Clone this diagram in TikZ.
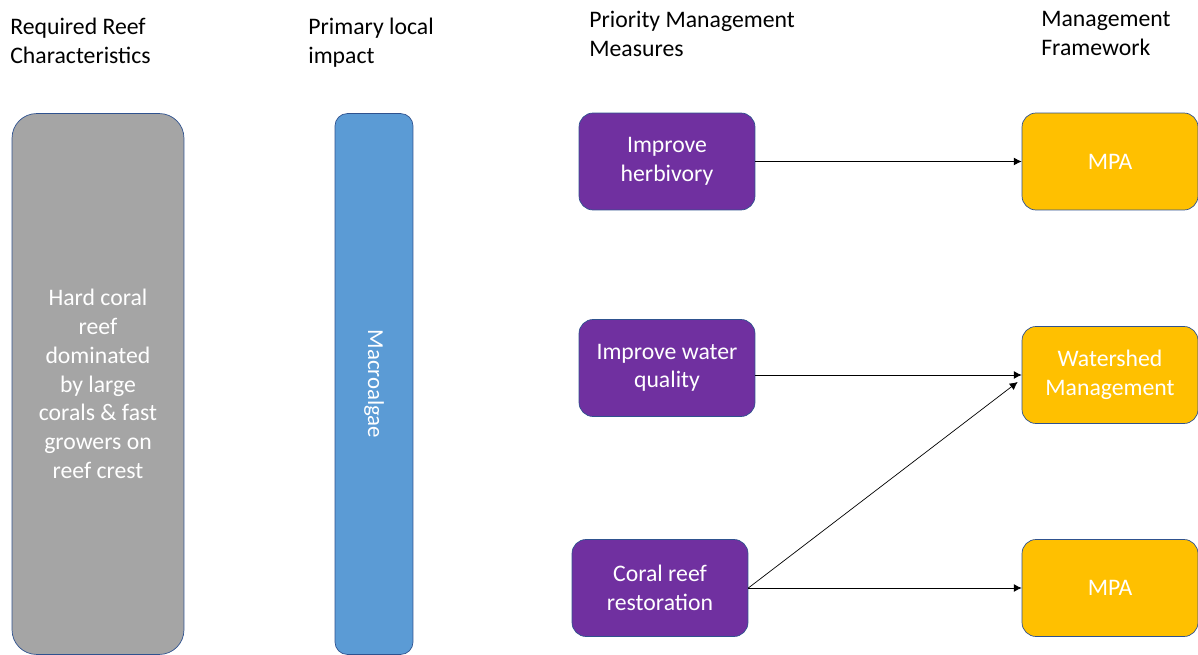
\documentclass[tikz,border=0pt]{standalone}
\usepackage{fontspec}
\setmainfont{Carlito}
\usetikzlibrary{arrows.meta}
\usetikzlibrary{positioning}
\definecolor{edgeblue}{HTML}{2F528F}
\definecolor{reefgrey}{HTML}{A5A5A5}
\definecolor{algaeblue}{HTML}{5B9BD5}
\definecolor{measurepurple}{HTML}{7030A0}
\definecolor{frameyellow}{HTML}{FFC000}
\tikzset{header/.style = {anchor = north west, inner sep = 0, align = left, font = \fontsize{13.5}{16.2}\selectfont}}
\tikzset{measure/.style = {draw = edgeblue, fill = measurepurple, text = white, rounded corners = 8pt, minimum width = 3.52cm, minimum height = 1.94cm, align = center, font = \fontsize{13.5}{16.2}\selectfont}}
\tikzset{frame/.style = {measure, fill = frameyellow}}
\tikzset{link/.style = {-{Latex[length = 4.5pt, width = 4.5pt]}, line width = 0.4pt}}

\begin{document}
\begin{tikzpicture}[x = 0.02cm, y = -0.02cm]
      \useasboundingbox (0, 0) rectangle (1198, 655);
      \clip (0, 0) rectangle (1198, 655);

      \node [header] (hreef) at (10, 18) {Required Reef\\Characteristics};
      \node [header] (himpact) at (308, 18) {Primary local\\impact};
      \node [header] (hmeasure) at (589, 11) {Priority Management\\Measures};
      \node [header] (hframe) at (1041, 11) {Management\\Framework};

      \node [draw = edgeblue, fill = reefgrey, text = white, rounded corners = 14pt, minimum width = 3.44cm, minimum height = 10.82cm, align = center, font = \fontsize{13.5}{16.4}\selectfont] (reef) at (98, 384) {Hard coral\\reef\\dominated\\by large\\corals \& fast\\growers on\\reef crest};
      \node [draw = edgeblue, fill = algaeblue, text = white, rounded corners = 7pt, minimum width = 1.56cm, minimum height = 10.82cm] (algae) at (374, 384) {};
      \node [rotate = -90, text = white, font = \fontsize{13}{15}\selectfont] (algaetext) at (algae.center) {Macroalgae};

      \node [measure] (herb) at (667, 161.5) {Improve\\herbivory};
      \node [measure] (water) at (667, 368) {Improve water\\quality};
      \node [measure] (restore) at (660, 588) {Coral reef\\restoration};

      \node [frame] (mpaone) at (1110, 161.5) {MPA};
      \node [frame] (shed) at (1110, 375) {Watershed\\Management};
      \node [frame] (mpatwo) at (1110, 588) {MPA};

      \draw [link] (herb) -- (mpaone);
      \draw [link] (water.east |- shed.west) -- (shed.west);
      \draw [link] (restore.east) -- ([xshift = -0.08cm, yshift = -0.14cm] shed.west);
      \draw [link] (restore) -- (mpatwo);
\end{tikzpicture}
\end{document}
